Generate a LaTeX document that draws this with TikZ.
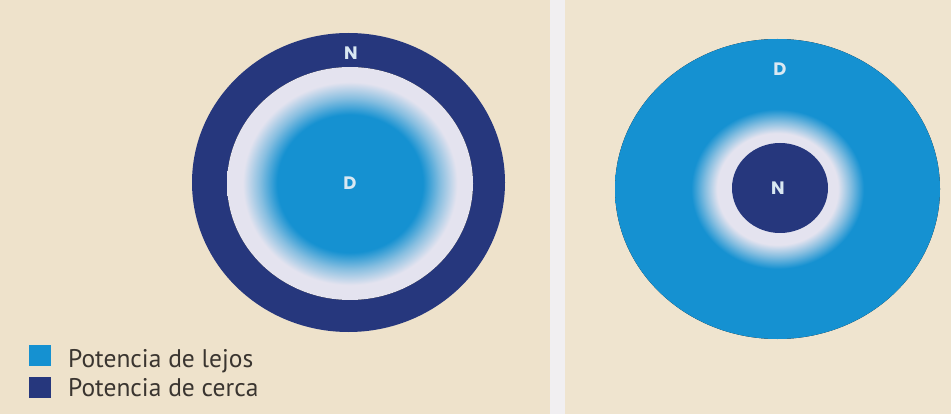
\documentclass[tikz,border=0pt]{standalone}
\usepackage{fontspec}
\setmainfont{PT Sans}
\newfontfamily\labfont{Poppins}
\definecolor{bgL}{HTML}{EEE2CB}
\definecolor{bgR}{HTML}{EFE4CF}
\definecolor{strip}{HTML}{F1EFF1}
\definecolor{cblue}{HTML}{1591D1}
\definecolor{cnavy}{HTML}{26377D}
\definecolor{clight}{HTML}{E4E3EF}
\definecolor{cmid}{HTML}{86BEE0}
\definecolor{ctext}{HTML}{3A3530}
\definecolor{clab}{HTML}{D9E8F2}
\pgfdeclareradialshading{leftshade}{\pgfpoint{0bp}{0bp}}{color(0bp)=(cblue); color(14.8bp)=(cblue); color(18.3bp)=(cmid); color(21.8bp)=(clight); color(50bp)=(clight)}
\pgfdeclareradialshading{rightshade}{\pgfpoint{0bp}{0bp}}{color(0bp)=(clight); color(9.3bp)=(clight); color(11.2bp)=(cmid); color(13.3bp)=(cblue); color(50bp)=(cblue)}
\begin{document}
\begin{tikzpicture}[x=1pt,y=-1pt,
  lab/.style={font=\labfont\bfseries\fontsize{18}{18}\selectfont, text=clab, inner sep=0pt},
  legtext/.style={font=\fontsize{25.5}{25.5}\selectfont, text=ctext, anchor=base west, inner sep=0pt},
  legbox/.style={minimum width=22pt, minimum height=21pt, inner sep=0pt, anchor=north west}]
\useasboundingbox (0,0) rectangle (951,414);
% backgrounds
\fill[bgL] (0,0) rectangle (550,414);
\fill[strip] (550,0) rectangle (565,414);
\fill[bgR] (565,0) rectangle (951,414);
% left diagram
\fill[cnavy] (348.5,182.5) ellipse [x radius=156.5pt, y radius=149.5pt];
\fill[shading=leftshade] (350,183.5) ellipse [x radius=123pt, y radius=116.5pt];
\node[lab] (ln) at (351,53) {N};
\node[lab] (ld) at (350,183) {D};
% right diagram
\fill[shading=rightshade] (777.5,189) ellipse [x radius=162.5pt, y radius=150pt];
\fill[cnavy] (780,188) ellipse [x radius=48pt, y radius=45pt];
\node[lab] (rd) at (780,69) {D};
\node[lab] (rn) at (778,188) {N};
% legend
\node[legbox, fill=cblue] (k1) at (29,345) {};
\node[legbox, fill=cnavy] (k2) at (29,377) {};
\node[legtext] (t1) at (68,367) {Potencia de lejos};
\node[legtext] (t2) at (68,396) {Potencia de cerca};
\end{tikzpicture}
\end{document}
